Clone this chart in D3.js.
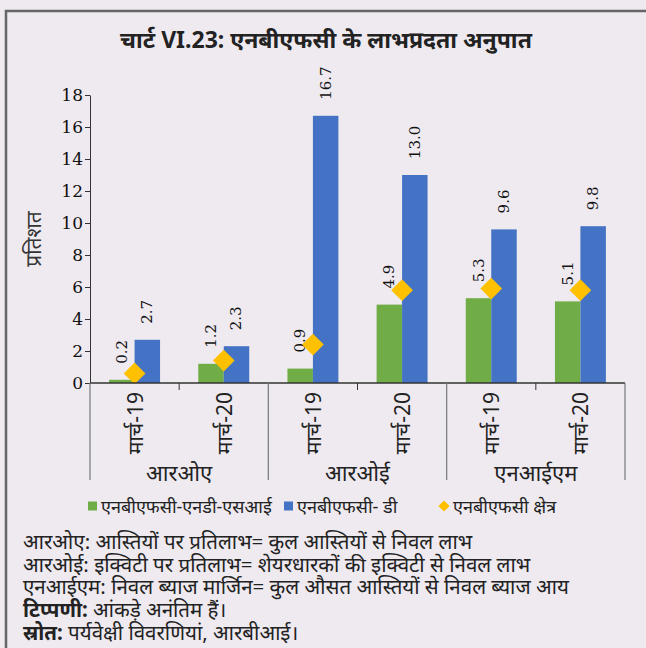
<!DOCTYPE html>
<html>
<head>
<meta charset="utf-8">
<script src="https://cdn.jsdelivr.net/npm/d3@7"></script>
<style>
  body { margin: 0; background: #eeeaf0; }
  svg { display: block; }
  .sans { font-family: "Liberation Sans Narrow", "Noto Sans", sans-serif; }
  .serif { font-family: "DejaVu Serif", "Liberation Serif", serif; }
</style>
</head>
<body>
<div id="container"></div>
<script>
/* CONSTANTS AND GLOBALS */
const width = 646,
  height = 648,
  margin = { top: 95, bottom: 265, left: 90, right: 21 };

/* DATA */
const groups = ["आरओए", "आरओई", "एनआईएम"];
const categories = ["आरओए|मार्च-19", "आरओए|मार्च-20", "आरओई|मार्च-19", "आरओई|मार्च-20", "एनआईएम|मार्च-19", "एनआईएम|मार्च-20"];
const nbfcNdSi = [0.2, 1.2, 0.9, 4.9, 5.3, 5.1];
const nbfcD = [2.7, 2.3, 16.7, 13.0, 9.6, 9.8];
const nbfcSector = [0.6, 1.4, 2.4, 5.8, 5.9, 5.8];
const seriesNames = ["एनबीएफसी-एनडी-एसआई", "एनबीएफसी- डी", "एनबीएफसी क्षेत्र"];
const yTicks = [0, 2, 4, 6, 8, 10, 12, 14, 16, 18];
const notes = [
  ["", "आरओए: आस्तियों पर प्रतिलाभ= कुल आस्तियों से निवल लाभ"],
  ["", "आरओई: इक्विटी पर प्रतिलाभ= शेयरधारकों की इक्विटी से निवल लाभ"],
  ["", "एनआईएम: निवल ब्याज मार्जिन= कुल औसत आस्तियों से निवल ब्याज आय"],
  ["टिप्पणी:", " आंकड़े अनंतिम हैं।"],
  ["स्रोत:", " पर्यवेक्षी विवरणियां, आरबीआई।"]
];

const colors = ["#70ad47", "#4472c4", "#ffc000"];

const svg = d3.select("#container")
  .append("svg")
  .attr("width", width)
  .attr("height", height);

// frame
svg.append("rect").attr("width", width).attr("height", height).attr("fill", "#eeeaf0");
svg.append("path")
  .attr("d", `M6,${height} V11 H${width}`)
  .attr("fill", "none")
  .attr("stroke", "#666")
  .attr("stroke-width", 2.5);

// title
svg.append("text")
  .attr("class", "sans")
  .attr("x", 326)
  .attr("y", 48)
  .attr("text-anchor", "middle")
  .style("font-size", "23px")
  .style("font-weight", "bold")
  .attr("fill", "#222")
  .text("चार्ट VI.23: एनबीएफसी के लाभप्रदता अनुपात");

// SCALES
const xScale = d3.scaleBand()
  .domain(categories)
  .range([margin.left, width - margin.right]);

const xInner = d3.scaleBand()
  .domain([0, 1])
  .range([0, xScale.bandwidth()])
  .paddingOuter(0.75)
  .paddingInner(0);

const yScale = d3.scaleLinear()
  .domain([0, 18])
  .range([height - margin.bottom, margin.top]);

const y0 = yScale(0);

// AXES
const yAxis = d3.axisLeft(yScale).tickValues(yTicks).tickSize(5).tickSizeOuter(0);
const gy = svg.append("g")
  .attr("transform", `translate(${margin.left},0)`)
  .call(yAxis);
gy.select(".domain").attr("stroke", "#333");
gy.selectAll(".tick line").attr("stroke", "#333");
gy.selectAll(".tick text")
  .attr("class", "serif")
  .attr("x", -7)
  .style("font-size", "17px")
  .attr("fill", "#111");

svg.append("text")
  .attr("class", "sans")
  .attr("transform", `translate(33,${yScale(9)}) rotate(-90)`)
  .attr("text-anchor", "middle")
  .attr("dominant-baseline", "central")
  .style("font-size", "21px")
  .attr("fill", "#333")
  .text("प्रतिशत");

// BARS
const seriesData = [nbfcNdSi, nbfcD];
seriesData.forEach((vals, si) => {
  svg.append("g").selectAll("rect")
    .data(vals)
    .join("rect")
    .attr("x", (d, i) => xScale(categories[i]) + xInner(si))
    .attr("y", d => yScale(d))
    .attr("width", xInner.bandwidth())
    .attr("height", d => y0 - yScale(d))
    .attr("fill", colors[si]);

  svg.append("g").selectAll("text")
    .data(vals)
    .join("text")
    .attr("class", "serif")
    .attr("transform", (d, i) => `translate(${xScale(categories[i]) + xInner(si) + xInner.bandwidth() / 2},${yScale(d) - 16}) rotate(-90)`)
    .attr("dominant-baseline", "central")
    .style("font-size", "15px")
    .attr("fill", "#111")
    .text(d => d.toFixed(1));
});

// DIAMONDS
const diamond = d3.symbol().type(d3.symbolDiamond2).size(300);
svg.append("g").selectAll("path")
  .data(nbfcSector)
  .join("path")
  .attr("transform", (d, i) => `translate(${xScale(categories[i]) + xScale.bandwidth() / 2},${yScale(d)})`)
  .attr("d", diamond)
  .attr("fill", colors[2]);

// X AXIS: baseline + ticks + group separators
svg.append("line")
  .attr("x1", margin.left).attr("x2", width - margin.right)
  .attr("y1", y0).attr("y2", y0)
  .attr("stroke", "#333").attr("stroke-width", 1.5);

const groupEdges = [0, 2, 4].map(i => xScale(categories[i])).concat([width - margin.right]);
svg.append("g").selectAll("line")
  .data(groupEdges)
  .join("line")
  .attr("x1", d => d).attr("x2", d => d)
  .attr("y1", y0).attr("y2", 480)
  .attr("stroke", "#777").attr("stroke-width", 1.2);

svg.append("g").selectAll("line")
  .data([1, 3, 5].map(i => xScale(categories[i])))
  .join("line")
  .attr("x1", d => d).attr("x2", d => d)
  .attr("y1", y0).attr("y2", y0 + 7)
  .attr("stroke", "#333");

svg.append("g").selectAll("text")
  .data(categories)
  .join("text")
  .attr("class", "sans")
  .attr("transform", d => `translate(${xScale(d) + xScale.bandwidth() / 2},${y0 + 9}) rotate(-90)`)
  .attr("text-anchor", "end")
  .attr("dominant-baseline", "central")
  .style("font-size", "21px")
  .attr("fill", "#222")
  .text(d => d.split("|")[1]);

svg.append("g").selectAll("text")
  .data(groups)
  .join("text")
  .attr("class", "sans")
  .attr("x", (d, i) => (groupEdges[i] + groupEdges[i + 1]) / 2)
  .attr("y", 472)
  .attr("text-anchor", "middle")
  .attr("dominant-baseline", "central")
  .style("font-size", "22px")
  .attr("fill", "#222")
  .text(d => d);

// LEGEND
const legendX = [88, 284, 440];
const legend = svg.append("g").selectAll("g")
  .data(seriesNames)
  .join("g")
  .attr("transform", (d, i) => `translate(${legendX[i]},506)`);

legend.filter((d, i) => i < 2).append("rect")
  .attr("x", 0).attr("y", -4.5).attr("width", 9).attr("height", 9)
  .attr("fill", (d, i) => colors[i]);
legend.filter((d, i) => i === 2).append("path")
  .attr("transform", "translate(4,0)")
  .attr("d", d3.symbol().type(d3.symbolDiamond2).size(80))
  .attr("fill", colors[2]);
legend.append("text")
  .attr("class", "sans")
  .attr("x", (d, i) => i === 2 ? 13 : 13)
  .attr("dominant-baseline", "central")
  .style("font-size", "18px")
  .attr("fill", "#222")
  .text(d => d);

// NOTES
const noteY = [541, 564, 586, 609, 632];
const noteText = svg.append("g").selectAll("text")
  .data(notes)
  .join("text")
  .attr("class", "sans")
  .attr("x", 23)
  .attr("y", (d, i) => noteY[i])
  .attr("dominant-baseline", "central")
  .style("font-size", "20.5px")
  .attr("fill", "#222");
noteText.append("tspan").style("font-weight", "bold").text(d => d[0]);
noteText.append("tspan").text(d => d[1]);
</script>
</body>
</html>
